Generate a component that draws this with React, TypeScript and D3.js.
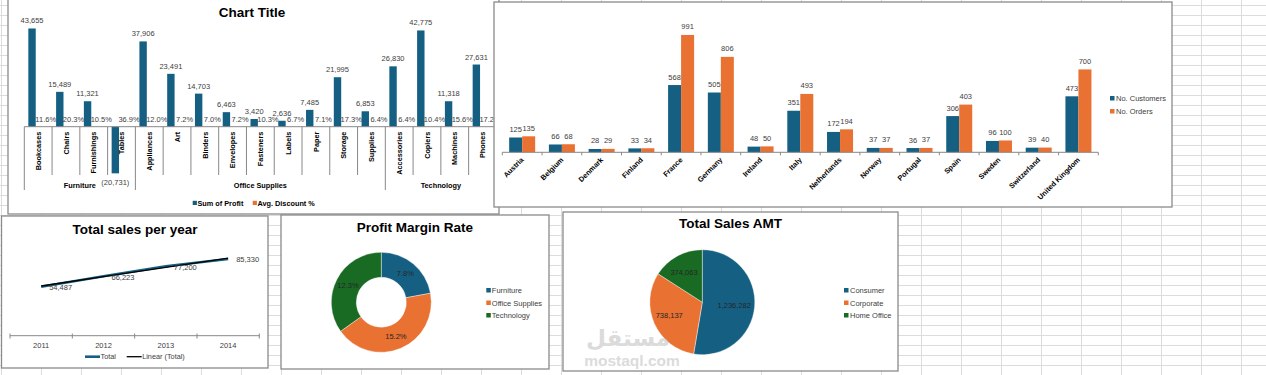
import React from 'react';
import * as d3 from 'd3';

// ---------- data ----------
const subCategories = ['Bookcases', 'Chairs', 'Furnishings', 'Tables', 'Appliances', 'Art', 'Binders', 'Envelopes', 'Fasteners', 'Labels', 'Paper', 'Storage', 'Supplies', 'Accessories', 'Copiers', 'Machines', 'Phones'];
const categoryGroups = ['Furniture', 'Office Supplies', 'Technology'];
const groupSizes = [4, 9, 4];
const sumOfProfit = [43655, 15489, 11321, -20731, 37906, 23491, 14703, 6463, 3420, 2636, 7485, 21995, 6853, 26830, 42775, 11318, 27631];
const avgDiscount = [11.6, 20.3, 10.5, 36.9, 12.0, 7.2, 7.0, 7.2, 10.3, 6.7, 7.1, 17.3, 6.4, 6.4, 10.4, 15.6, 17.2];

const countries = ['Austria', 'Belgium', 'Denmark', 'Finland', 'France', 'Germany', 'Ireland', 'Italy', 'Netherlands', 'Norway', 'Portugal', 'Spain', 'Sweden', 'Switzerland', 'United Kingdom'];
const noCustomers = [125, 66, 28, 33, 568, 505, 48, 351, 172, 37, 36, 306, 96, 39, 473];
const noOrders = [135, 68, 29, 34, 991, 806, 50, 493, 194, 37, 37, 403, 100, 40, 700];

const years = ['2011', '2012', '2013', '2014'];
const totalSales = [54487, 66223, 77200, 85330];

const marginCategories = ['Furniture', 'Office Supplies', 'Technology'];
const marginRates = [7.8, 15.2, 12.3];

const segments = ['Consumer', 'Corporate', 'Home Office'];
const segmentSales = [1236282, 738137, 374063];

// ---------- style ----------
const BLUE = '#156082';
const ORANGE = '#E97132';
const GREEN = '#196B24';
const COLORS = [BLUE, ORANGE, GREEN];
const FONT = '"Liberation Sans", Arial, sans-serif';
const LABEL = '#404040';
const BORDER = '#8a8a8a';
const W = 1266;
const H = 375;

const fmt = d3.format(',');

function ChartBox({ x, y, w, h }: { x: number; y: number; w: number; h: number }) {
  return <rect x={x} y={y} width={w} height={h} fill="#fff" stroke={BORDER} strokeWidth={1.3} />;
}

function SheetGrid() {
  const vx = d3.range(1.5, W, 40);
  const hy = d3.range(5.5, H, 10);
  return (
    <g stroke="#dcdcdc" strokeWidth={1}>
      {vx.map((x) => <line key={'v' + x} x1={x} x2={x} y1={0} y2={H} />)}
      {hy.map((y) => <line key={'h' + y} x1={0} x2={W} y1={y} y2={y} />)}
    </g>
  );
}

function ProfitChart() {
  const x0 = d3.scaleBand<string>().domain(subCategories).range([24.3, 496.4]);
  const bw = x0.bandwidth();
  const x1 = d3.scaleBand<string>().domain(['profit', 'discount']).range([bw * 0.145, bw * 0.145 + 14.8]);
  const y = d3.scaleLinear().domain([-20000, 40000]).range([126.7 + 45, 126.7 - 90]);
  const y0 = y(0);
  const groupStarts = d3.cumsum([0, ...groupSizes]);
  return (
    <g fontFamily={FONT}>
      <ChartBox x={8} y={-3} w={491} h={217} />
      <text x={252} y={17} textAnchor="middle" fontSize={13.5} fontWeight="bold" fill="#000">Chart Title</text>
      {subCategories.map((c, i) => {
        const v = sumOfProfit[i];
        const bx = (x0(c) as number) + (x1('profit') as number);
        const top = Math.min(y(v), y0);
        const hgt = Math.abs(y(v) - y0);
        const ox = (x0(c) as number) + (x1('discount') as number);
        const dv = avgDiscount[i] / 100;
        return (
          <g key={c}>
            <rect x={bx} y={top} width={x1.bandwidth()} height={hgt} fill={BLUE} />
            <rect x={ox} y={y(dv)} width={x1.bandwidth()} height={y0 - y(dv)} fill={ORANGE} />
            <text x={bx + x1.bandwidth() / 2} y={v >= 0 ? top - 5 : top + hgt + 12} textAnchor="middle" fontSize={7.5} fill={LABEL}>
              {v >= 0 ? fmt(v) : '(' + fmt(-v) + ')'}
            </text>
            <text x={bx + x1.bandwidth() + 10} y={y(dv) - 4.5} textAnchor="middle" fontSize={7.5} fill={LABEL}>
              {avgDiscount[i].toFixed(1) + '%'}
            </text>
            <text transform={`translate(${(x0(c) as number) + bw / 2 + 2.7},${y0 + 5}) rotate(-90)`} textAnchor="end" fontSize={7.3} fontWeight="bold" fill="#000">{c}</text>
          </g>
        );
      })}
      <line x1={24.3} x2={496.4} y1={y0} y2={y0} stroke="#888" strokeWidth={1} />
      {subCategories.map((c, i) => {
        const gx = x0(c) as number;
        const isGroup = groupStarts.includes(i);
        return <line key={'s' + c} x1={gx} x2={gx} y1={y0} y2={isGroup ? 190 : 175} stroke="#888" strokeWidth={1} />;
      })}
      {categoryGroups.map((g, gi) => {
        const a = 24.3 + groupStarts[gi] * bw;
        const b = 24.3 + groupStarts[gi + 1] * bw;
        return <text key={g} x={(a + b) / 2} y={188} textAnchor="middle" fontSize={7.3} fontWeight="bold" fill="#000">{g}</text>;
      })}
      <rect x={192.7} y={200.8} width={4.2} height={4.2} fill={BLUE} />
      <text x={197.5} y={205.5} fontSize={7.3} fontWeight="bold" fill="#000">Sum of Profit</text>
      <rect x={252.7} y={200.8} width={4.2} height={4.2} fill={ORANGE} />
      <text x={257.5} y={205.5} fontSize={7.3} fontWeight="bold" fill="#000">Avg. Discount %</text>
    </g>
  );
}

function CountryChart() {
  const x0 = d3.scaleBand<string>().domain(countries).range([502.3, 1098.3]);
  const bw = x0.bandwidth();
  const x1 = d3.scaleBand<string>().domain(['cust', 'ord']).range([bw / 2 - 13, bw / 2 + 13]);
  const y = d3.scaleLinear().domain([0, 1200]).range([152.3, 152.3 - 1200 * 0.1184]);
  const y0 = y(0);
  const series = [
    { key: 'cust', name: 'No. Customers', values: noCustomers, color: BLUE },
    { key: 'ord', name: 'No. Orders', values: noOrders, color: ORANGE },
  ];
  return (
    <g fontFamily={FONT}>
      <ChartBox x={494} y={2} w={678} h={205} />
      {countries.map((c, i) => (
        <g key={c}>
          {series.map((s) => {
            const bx = (x0(c) as number) + (x1(s.key) as number);
            const v = s.values[i];
            return (
              <g key={s.key}>
                <rect x={bx} y={y(v)} width={x1.bandwidth()} height={y0 - y(v)} fill={s.color} />
                <text x={bx + x1.bandwidth() / 2} y={y(v) - 5.5} textAnchor="middle" fontSize={7.5} fill={LABEL}>{fmt(v)}</text>
              </g>
            );
          })}
          <text transform={`translate(${(x0(c) as number) + bw / 2 + 2},${y0 + 8}) rotate(-45)`} textAnchor="end" fontSize={7.3} fontWeight="bold" fill="#000">{c}</text>
        </g>
      ))}
      <line x1={502.3} x2={1098.3} y1={y0} y2={y0} stroke="#888" strokeWidth={1} />
      {countries.concat(['_end']).map((c, i) => {
        const tx = 502.3 + i * bw;
        return <line key={'t' + c} x1={tx} x2={tx} y1={y0} y2={y0 + 3} stroke="#888" strokeWidth={1} />;
      })}
      {series.map((s, i) => (
        <g key={'lg' + s.key}>
          <rect x={1110} y={96 + i * 13} width={4.5} height={4.5} fill={s.color} />
          <text x={1116} y={101 + i * 13} fontSize={7.5} fill={LABEL}>{s.name}</text>
        </g>
      ))}
    </g>
  );
}

function SalesYearChart() {
  const x = d3.scaleBand<string>().domain(years).range([10, 259.3]);
  const y = d3.scaleLinear().domain([0, 100000]).range([335.7, 335.7 - 100000 * 0.000899]);
  const cx = (yr: string) => (x(yr) as number) + x.bandwidth() / 2;
  const pts: [number, number][] = years.map((yr, i) => [cx(yr), y(totalSales[i])]);
  // linear trendline (least squares over the series)
  const idx = years.map((_, i) => i + 1);
  const mx = d3.mean(idx) as number;
  const my = d3.mean(totalSales) as number;
  const slope = d3.sum(idx.map((v, i) => (v - mx) * (totalSales[i] - my))) / d3.sum(idx.map((v) => (v - mx) ** 2));
  const icpt = my - slope * mx;
  const trend: [number, number][] = years.map((yr, i) => [cx(yr), y(icpt + slope * (i + 1))]);
  const line = d3.line();
  return (
    <g fontFamily={FONT}>
      <ChartBox x={1.5} y={216} w={266.5} h={152} />
      <text x={135} y={234} textAnchor="middle" fontSize={13.5} fontWeight="bold" fill="#000">Total sales per year</text>
      <line x1={10} x2={259.3} y1={335.7} y2={335.7} stroke="#888" strokeWidth={1} />
      {years.concat(['_e']).map((yr, i) => {
        const tx = 10 + i * x.bandwidth();
        return <line key={'t' + yr} x1={tx} x2={tx} y1={333.5} y2={338.5} stroke="#888" strokeWidth={1} />;
      })}
      {years.map((yr) => (
        <text key={yr} x={cx(yr)} y={347.5} textAnchor="middle" fontSize={7.5} fill={LABEL}>{yr}</text>
      ))}
      <path d={line(pts) as string} fill="none" stroke={BLUE} strokeWidth={2.6} />
      <path d={line(trend) as string} fill="none" stroke="#000" strokeWidth={1.3} />
      {years.map((yr, i) => (
        <text key={'l' + yr} x={cx(yr) + 8} y={y(totalSales[i]) + 3.5} fontSize={7.5} fill={LABEL}>{fmt(totalSales[i])}</text>
      ))}
      <line x1={85} x2={100} y1={356.7} y2={356.7} stroke={BLUE} strokeWidth={2.6} />
      <text x={100.5} y={359.3} fontSize={7.3} fill={LABEL}>Total</text>
      <line x1={126.7} x2={141.7} y1={356.7} y2={356.7} stroke="#000" strokeWidth={1.3} />
      <text x={142.2} y={359.3} fontSize={7.3} fill={LABEL}>Linear (Total)</text>
    </g>
  );
}

function MarginChart() {
  const cx = 381.3;
  const cy = 302.3;
  const pie = d3.pie<number>().sort(null).value((d) => d);
  const arcs = pie(marginRates);
  const arc = d3.arc<d3.PieArcDatum<number>>().innerRadius(25).outerRadius(50);
  return (
    <g fontFamily={FONT}>
      <ChartBox x={281} y={215} w={268} h={154} />
      <text x={415} y={232} textAnchor="middle" fontSize={13.5} fontWeight="bold" fill="#000">Profit Margin Rate</text>
      <g transform={`translate(${cx},${cy})`}>
        {arcs.map((a, i) => (
          <path key={i} d={arc(a) as string} fill={COLORS[i]} stroke="#fff" strokeWidth={0.4} />
        ))}
        {arcs.map((a, i) => {
          const [lx, ly] = arc.centroid(a);
          return <text key={'t' + i} x={lx} y={ly + 2.6} textAnchor="middle" fontSize={7.5} fill="#262626">{marginRates[i].toFixed(1) + '%'}</text>;
        })}
      </g>
      {marginCategories.map((c, i) => (
        <g key={c}>
          <rect x={486.3} y={288 + i * 12.5} width={4.5} height={4.5} fill={COLORS[i]} />
          <text x={491.8} y={293 + i * 12.5} fontSize={7.5} fill={LABEL}>{c}</text>
        </g>
      ))}
    </g>
  );
}

function SegmentChart() {
  const cx = 702.3;
  const cy = 302.2;
  const pie = d3.pie<number>().sort(null).value((d) => d);
  const arcs = pie(segmentSales);
  const arc = d3.arc<d3.PieArcDatum<number>>().innerRadius(0).outerRadius(52.5);
  const labelArc = d3.arc<d3.PieArcDatum<number>>().innerRadius(34).outerRadius(34);
  return (
    <g fontFamily={FONT}>
      <ChartBox x={563} y={212} w={335} h={159} />
      <text x={730.5} y={228} textAnchor="middle" fontSize={13.5} fontWeight="bold" fill="#000">Total Sales AMT</text>
      <g transform={`translate(${cx},${cy})`}>
        {arcs.map((a, i) => (
          <path key={i} d={arc(a) as string} fill={COLORS[i]} stroke="#fff" strokeWidth={0.4} />
        ))}
        {arcs.map((a, i) => {
          const [lx, ly] = labelArc.centroid(a);
          return <text key={'t' + i} x={lx - 2} y={ly + 2.5} textAnchor="middle" fontSize={7.5} fill="#262626">{fmt(segmentSales[i])}</text>;
        })}
      </g>
      {segments.map((c, i) => (
        <g key={c}>
          <rect x={844} y={288 + i * 12.5} width={4.5} height={4.5} fill={COLORS[i]} />
          <text x={850} y={293 + i * 12.5} fontSize={7.5} fill={LABEL}>{c}</text>
        </g>
      ))}
      <g opacity={0.5} fill="#b8b8b8" fontWeight="bold" textAnchor="middle">
        <text x={628} y={346} fontSize={23} fontFamily='"DejaVu Sans", sans-serif'>مستقل</text>
        <text x={632} y={366} fontSize={15.5} fontFamily={FONT}>mostaql.com</text>
      </g>
    </g>
  );
}

export default function App() {
  return (
    <svg width={W} height={H} style={{ position: 'absolute', left: 0, top: 0, background: '#fff' }}>
      <rect x={0} y={0} width={W} height={H} fill="#fff" />
      <SheetGrid />
      <ProfitChart />
      <CountryChart />
      <SalesYearChart />
      <MarginChart />
      <SegmentChart />
    </svg>
  );
}
